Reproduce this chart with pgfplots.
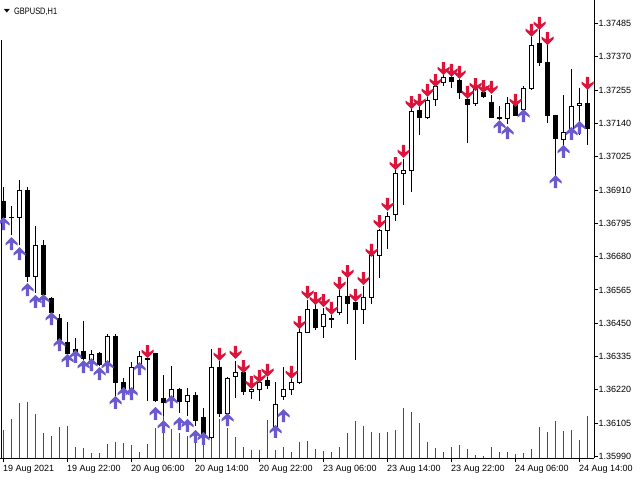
\documentclass[border=0pt]{standalone}
\usepackage{fontspec}
\setmainfont{Liberation Sans}
\newfontfamily\titlefont[FakeStretch=0.8]{Liberation Sans}
\newfontfamily\symfont{DejaVu Sans}
\usepackage{graphicx}
\usepackage{pgfplots}
\usepackage{pgfplotstable}
\pgfplotsset{compat=1.18}
\definecolor{upblue}{RGB}{106,90,205}
\definecolor{dnred}{RGB}{220,20,60}
\definecolor{volgreen}{RGB}{0,128,0}

\pgfdeclareplotmark{uparr}{%
  \pgfpathmoveto{\pgfqpoint{0pt}{0pt}}%
  \pgfpathlineto{\pgfqpoint{6pt}{-6pt}}%
  \pgfpathlineto{\pgfqpoint{6pt}{-8.5pt}}%
  \pgfpathlineto{\pgfqpoint{1.6pt}{-5.5pt}}%
  \pgfpathlineto{\pgfqpoint{1.6pt}{-13pt}}%
  \pgfpathlineto{\pgfqpoint{-1.6pt}{-13pt}}%
  \pgfpathlineto{\pgfqpoint{-1.6pt}{-5.5pt}}%
  \pgfpathlineto{\pgfqpoint{-6pt}{-8.5pt}}%
  \pgfpathlineto{\pgfqpoint{-6pt}{-6pt}}%
  \pgfpathclose\pgfusepathqfill}
\pgfdeclareplotmark{dnarr}{%
  \pgfpathmoveto{\pgfqpoint{0pt}{0pt}}%
  \pgfpathlineto{\pgfqpoint{6pt}{6pt}}%
  \pgfpathlineto{\pgfqpoint{6pt}{8.5pt}}%
  \pgfpathlineto{\pgfqpoint{1.6pt}{5.5pt}}%
  \pgfpathlineto{\pgfqpoint{1.6pt}{13pt}}%
  \pgfpathlineto{\pgfqpoint{-1.6pt}{13pt}}%
  \pgfpathlineto{\pgfqpoint{-1.6pt}{5.5pt}}%
  \pgfpathlineto{\pgfqpoint{-6pt}{8.5pt}}%
  \pgfpathlineto{\pgfqpoint{-6pt}{6pt}}%
  \pgfpathclose\pgfusepathqfill}

\pgfplotstableread{
i O H L C
0 1.36872 1.36921 1.36800 1.36817
1 1.36817 1.36855 1.36755 1.36816
2 1.36814 1.36945 1.36720 1.36910
3 1.36910 1.36921 1.36593 1.36610
4 1.36610 1.36786 1.36555 1.36717
5 1.36717 1.36738 1.36544 1.36548
6 1.36537 1.36541 1.36479 1.36486
7 1.36468 1.36482 1.36385 1.36392
8 1.36382 1.36454 1.36344 1.36347
9 1.36361 1.36399 1.36347 1.36351
10 1.36354 1.36458 1.36323 1.36330
11 1.36323 1.36358 1.36320 1.36341
12 1.36344 1.36351 1.36303 1.36306
13 1.36313 1.36413 1.36306 1.36406
14 1.36406 1.36413 1.36199 1.36244
15 1.36244 1.36261 1.36213 1.36223
16 1.36223 1.36316 1.36213 1.36299
17 1.36309 1.36354 1.36299 1.36337
18 1.36327 1.36328 1.36182 1.36326
19 1.36344 1.36349 1.36178 1.36185
20 1.36189 1.36271 1.36130 1.36178
21 1.36192 1.36303 1.36189 1.36223
22 1.36223 1.36228 1.36140 1.36180
23 1.36180 1.36228 1.36130 1.36202
24 1.36202 1.36213 1.36095 1.36116
25 1.36123 1.36157 1.36061 1.36064
26 1.36054 1.36361 1.36050 1.36299
27 1.36299 1.36320 1.36128 1.36137
28 1.36137 1.36266 1.36133 1.36261
29 1.36265 1.36320 1.36192 1.36280
30 1.36280 1.36282 1.36202 1.36213
31 1.36213 1.36223 1.36189 1.36221
32 1.36223 1.36247 1.36183 1.36246
33 1.36251 1.36265 1.36223 1.36235
34 1.36094 1.36247 1.36088 1.36170
35 1.36197 1.36299 1.36185 1.36220
36 1.36223 1.36258 1.36201 1.36246
37 1.36246 1.36430 1.36242 1.36418
38 1.36418 1.36532 1.36417 1.36496
39 1.36496 1.36513 1.36427 1.36436
40 1.36439 1.36503 1.36399 1.36480
41 1.36465 1.36479 1.36434 1.36464
42 1.36487 1.36565 1.36480 1.36543
43 1.36543 1.36605 1.36446 1.36518
44 1.36522 1.36524 1.36323 1.36498
45 1.36498 1.36579 1.36446 1.36539
46 1.36539 1.36691 1.36518 1.36684
47 1.36684 1.36777 1.36608 1.36770
48 1.36770 1.36836 1.36708 1.36819
49 1.36824 1.36979 1.36802 1.36967
50 1.36967 1.37019 1.36857 1.36978
51 1.36978 1.37192 1.36902 1.37183
52 1.37185 1.37199 1.37099 1.37161
53 1.37161 1.37230 1.37154 1.37219
54 1.37223 1.37278 1.37199 1.37268
55 1.37282 1.37307 1.37271 1.37299
56 1.37299 1.37304 1.37261 1.37285
57 1.37288 1.37295 1.37223 1.37247
58 1.37223 1.37233 1.37074 1.37206
59 1.37209 1.37268 1.37202 1.37256
60 1.37247 1.37273 1.37228 1.37233
61 1.37214 1.37238 1.37159 1.37162
62 1.37162 1.37202 1.37152 1.37157
63 1.37157 1.37230 1.37138 1.37209
64 1.37204 1.37221 1.37166 1.37168
65 1.37187 1.37268 1.37185 1.37261
66 1.37261 1.37440 1.37256 1.37411
67 1.37415 1.37468 1.37339 1.37351
68 1.37351 1.37423 1.37140 1.37168
69 1.37169 1.37171 1.36959 1.37088
70 1.37086 1.37238 1.37066 1.37109
71 1.37109 1.37328 1.37095 1.37199
72 1.37202 1.37264 1.37100 1.37209
73 1.37209 1.37268 1.37066 1.37123
}\ohlc

\pgfplotstableread{
i p
0 1.36817
1 1.36748
2 1.36713
3 1.36589
4 1.36548
5 1.36551
6 1.36489
7 1.36399
8 1.36344
9 1.36358
10 1.36323
11 1.36330
12 1.36299
13 1.36323
14 1.36199
15 1.36230
16 1.36230
17 1.36316
19 1.36161
20 1.36116
21 1.36202
22 1.36126
23 1.36120
24 1.36082
25 1.36075
28 1.36140
34 1.36099
35 1.36154
62 1.37152
63 1.37131
65 1.37190
69 1.36962
70 1.37066
71 1.37128
72 1.37149
}\uparrows

\pgfplotstableread{
i p
18 1.36330
27 1.36320
29 1.36327
30 1.36278
31 1.36223
32 1.36244
33 1.36265
36 1.36258
37 1.36430
38 1.36534
39 1.36513
40 1.36506
41 1.36479
42 1.36565
43 1.36606
44 1.36524
45 1.36582
46 1.36679
47 1.36779
48 1.36838
49 1.36979
50 1.37021
51 1.37190
52 1.37197
53 1.37232
54 1.37266
55 1.37307
56 1.37301
57 1.37294
58 1.37225
59 1.37252
60 1.37245
61 1.37242
64 1.37197
66 1.37439
67 1.37463
68 1.37411
73 1.37256
}\dnarrows

\pgfplotstableread{
i v
0 28
1 39
2 55
3 56
4 44
5 25
6 22
7 31
8 32
9 11
10 10
11 5
12 5
13 14
14 16
15 15
16 13
17 6
18 14
19 30
20 50
21 29
22 25
23 22
24 25
25 28
26 53
27 39
28 30
29 21
30 11
31 8
32 8
33 38
34 8
35 11
36 6
37 16
38 17
39 9
40 7
41 6
42 11
43 25
44 37
45 32
46 26
47 25
48 26
49 28
50 50
51 46
52 35
53 16
54 10
55 6
56 11
57 13
58 9
59 3
60 2
61 11
62 6
63 6
64 4
65 5
66 9
67 31
68 26
69 37
70 27
71 28
72 18
73 42
}\vol

\pgfplotsset{chartbase/.style={at={(0pt,22pt)}, anchor=south west,
  scale only axis, width=594pt, height=458pt,
  xmin=-0.4375, xmax=73.8125}}

\begin{document}
\begin{tikzpicture}
\useasboundingbox (0,0) rectangle (640pt,480pt);
\fill[white] (0,0) rectangle (640pt,480pt);
\begin{axis}[chartbase, ymin=0, ymax=458, hide axis]
\addplot[ycomb, draw=volgreen, line width=1pt, mark=none] table[x=i,y=v]{\vol};
\end{axis}
\begin{axis}[chartbase, ymin=1.359848, ymax=1.375665,
  axis x line=bottom, axis y line=right,
  axis line style={-, line width=1pt, black},
  tick align=outside, major tick length=4pt,
  tick style={black, line width=1pt},
  minor tick num=0,
  xtick={0,8,16,24,32,40,48,56,64,72},
  xticklabels={19 Aug 2021,19 Aug 22:00,20 Aug 06:00,20 Aug 14:00,20 Aug 22:00,23 Aug 06:00,23 Aug 14:00,23 Aug 22:00,24 Aug 06:00,24 Aug 14:00},
  ytick={1.35990,1.36105,1.36220,1.36335,1.36450,1.36565,1.36680,1.36795,1.36910,1.37025,1.37140,1.37255,1.37370,1.37485},
  yticklabels={1.35990,1.36105,1.36220,1.36335,1.36450,1.36565,1.36680,1.36795,1.36910,1.37025,1.37140,1.37255,1.37370,1.37485},
  xticklabel style={anchor=north west, inner sep=0pt, xshift=-0.5pt, yshift=-3pt, font=\fontsize{9}{10}\selectfont},
  yticklabel style={anchor=west, inner sep=0pt, xshift=0.5pt, font=\fontsize{9}{10}\selectfont},
  ]
% wicks
\addplot[draw=none, mark=none, forget plot,
  error bars/.cd, y dir=minus, y explicit, error mark=none,
  error bar style={draw=black, line width=1pt}]
  table[x=i, y=H, y error minus expr=\thisrow{H}-\thisrow{L}]{\ohlc};
% bear bodies
\addplot[draw=none, mark=none, forget plot,
  restrict expr to domain={\thisrow{O}-\thisrow{C}}{0.000001:1},
  error bars/.cd, y dir=minus, y explicit, error mark=none,
  error bar style={draw=black, line width=5pt}]
  table[x=i, y expr=\thisrow{O}+0.0000173, y error minus expr=\thisrow{O}-\thisrow{C}+0.0000345]{\ohlc};
% bull bodies outline
\addplot[draw=none, mark=none, forget plot,
  restrict expr to domain={\thisrow{C}-\thisrow{O}}{0.000001:1},
  error bars/.cd, y dir=minus, y explicit, error mark=none,
  error bar style={draw=black, line width=5pt}]
  table[x=i, y expr=\thisrow{C}+0.0000173, y error minus expr=\thisrow{C}-\thisrow{O}+0.0000345]{\ohlc};
% bull bodies inside
\addplot[draw=none, mark=none, forget plot,
  restrict expr to domain={\thisrow{C}-\thisrow{O}}{0.000001:1},
  error bars/.cd, y dir=minus, y explicit, error mark=none,
  error bar style={draw=white, line width=3pt}]
  table[x=i, y expr=\thisrow{C}-0.0000173, y error minus expr=\thisrow{C}-\thisrow{O}-0.0000345]{\ohlc};
% arrows
\addplot[only marks, mark=uparr, color=upblue, mark options={fill=upblue, draw=none}] table[x=i,y=p]{\uparrows};
\addplot[only marks, mark=dnarr, color=dnred, mark options={fill=dnred, draw=none}] table[x=i,y=p]{\dnarrows};
% left frame
\draw[line width=1pt, black] (rel axis cs:0.002525,0) -- (rel axis cs:0.002525,0.9127);
\end{axis}
\node[anchor=center, inner sep=0pt] at (7pt,468.3pt) {\symfont\fontsize{8}{8}\selectfont\scalebox{1}[0.6]{▼}};
\node[anchor=north west, inner sep=0pt] at (14pt,472pt) {\titlefont\fontsize{9.3}{10}\selectfont GBPUSD,H1};
\end{tikzpicture}
\end{document}
